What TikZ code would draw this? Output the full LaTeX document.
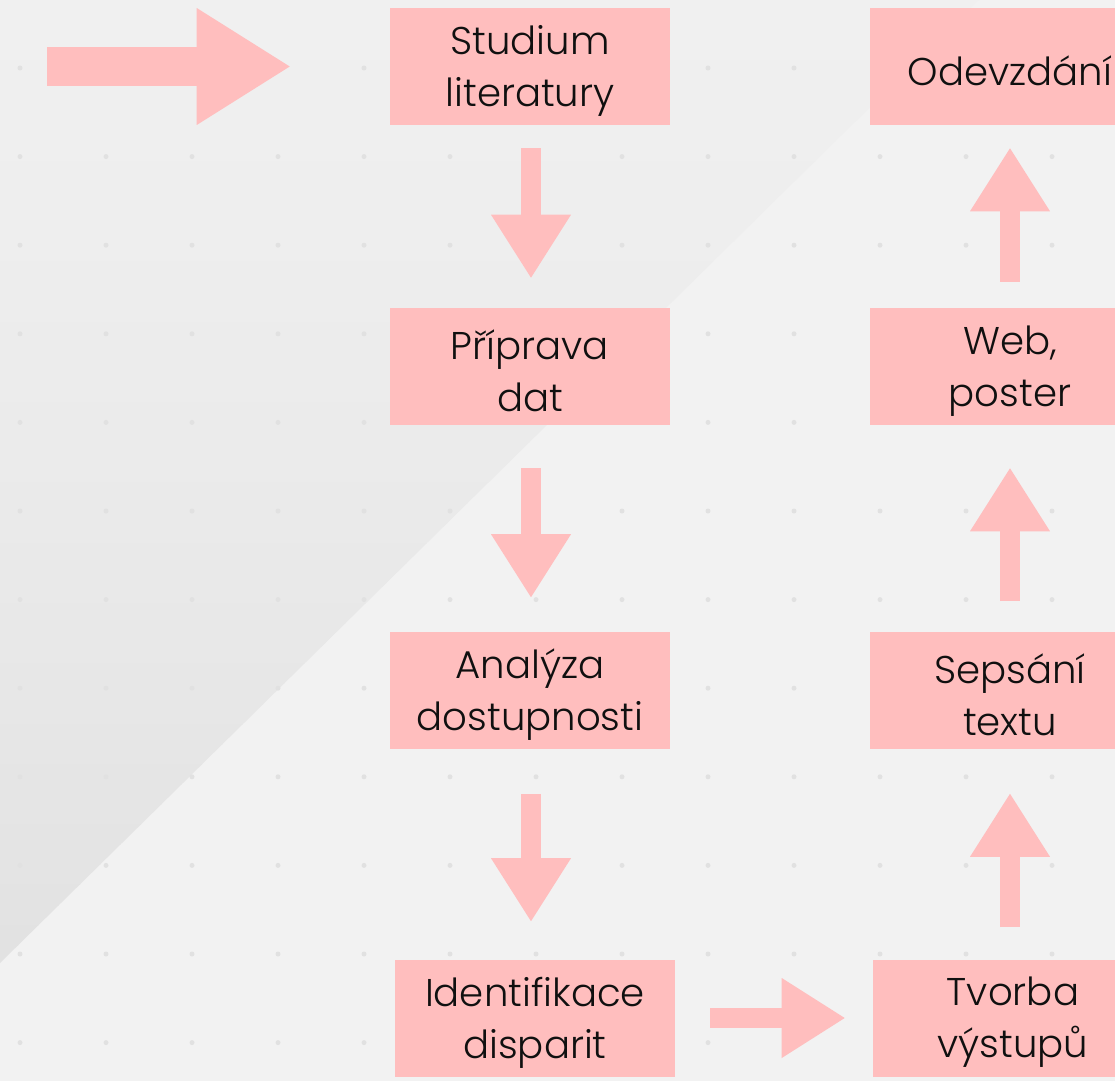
\documentclass[tikz,border=0pt]{standalone}
\usepackage{fontspec}
\IfFontExistsTF{Poppins Light}{\setmainfont{Poppins Light}}{\setmainfont{Poppins}}
\usetikzlibrary{arrows.meta,calc}
\definecolor{bgc}{HTML}{F2F2F2}
\definecolor{pinkc}{HTML}{FFBEBE}
\definecolor{txtc}{HTML}{101010}
\definecolor{dotc}{HTML}{E1E1E1}
\definecolor{shadeA}{HTML}{F0F0F0}
\definecolor{shadeB}{HTML}{E2E2E2}
\newcommand{\dn}[1]{\raisebox{-3.5pt}[\height][\depth]{#1}}
\begin{document}
\begin{tikzpicture}[x=0.75pt,y=-0.75pt,
  box/.style={rectangle, fill=pinkc, minimum width=210pt, minimum height=87.75pt,
    inner sep=0pt, align=center, text=txtc, font=\fontsize{29}{39}\selectfont},
  blk/.style={draw=pinkc, line width=15pt,
    -{Triangle[width=60pt,length=47.25pt,line width=0pt]}},
  bigblk/.style={draw=pinkc, line width=29.25pt,
    -{Triangle[width=87.75pt,length=69.75pt,line width=0pt]}}]
\useasboundingbox (0,0) rectangle (1115,1081);
\begin{scope}
\clip (0,0) rectangle (1115,1081);
\fill[bgc] (0,0) rectangle (1115,1081);
% darker diagonal region, darkening toward the lower left
\begin{scope}
\clip (0,0) -- (979,0) -- (0,963) -- cycle;
\foreach \k in {0,...,47} {
  \pgfmathsetmacro{\ya}{\k*20.1}
  \pgfmathsetmacro{\yb}{(\k+1)*20.1+1}
  \pgfmathsetmacro{\pc}{100*((\k+0.5)/48)^1.3}
  \fill[shadeB!\pc!shadeA] (0,\ya) rectangle (980,\yb);
}
\end{scope}
\foreach \i in {0,...,12} \foreach \j in {0,...,11}
  \fill[dotc] ({20+86*\i},{68+88.6*\j}) circle[radius=2.5];
\node[box] (stud) at (530,66.5) {\dn{Studium}\\\dn{literatury}};
\node[box] (prip) at (530,366.5) {\dn{Příprava}\\\dn{dat}};
\node[box] (anal) at (530,690) {\dn{Analýza}\\\dn{dostupnosti}};
\node[box] (iden) at (535,1018) {\dn{Identifikace}\\\dn{disparit}};
\node[box] (tvor) at (1013,1018) {\dn{Tvorba}\\\dn{výstupů}};
\node[box] (seps) at (1010,690) {\dn{Sepsání}\\\dn{textu}};
\node[box] (web) at (1010,366.5) {\dn{Web,}\\\dn{poster}};
\node[box] (odev) at (1010,66.5) {\dn{Odevzdání}};
\coordinate (start) at (47,66.5);
\draw[bigblk] (start) -- ($(stud.west)+(-100,0)$);
\draw[blk] ($(stud.south)+(1,23)$) -- ($(prip.north)+(1,-30)$);
\draw[blk] ($(prip.south)+(1,43)$) -- ($(anal.north)+(1,-34)$);
\draw[blk] ($(anal.south)+(1,45)$) -- ($(anal.south |- iden.north)+(1,-38)$);
\draw[blk] ($(iden.east)+(35,0)$) -- ($(tvor.west)+(-28,0)$);
\draw[blk] ($(seps.south |- tvor.north)+(0,-32)$) -- ($(seps.south)+(0,45)$);
\draw[blk] ($(seps.north)+(0,-30)$) -- ($(web.south)+(0,43)$);
\draw[blk] ($(web.north)+(0,-26)$) -- ($(odev.south)+(0,23)$);
\end{scope}
\end{tikzpicture}
\end{document}
